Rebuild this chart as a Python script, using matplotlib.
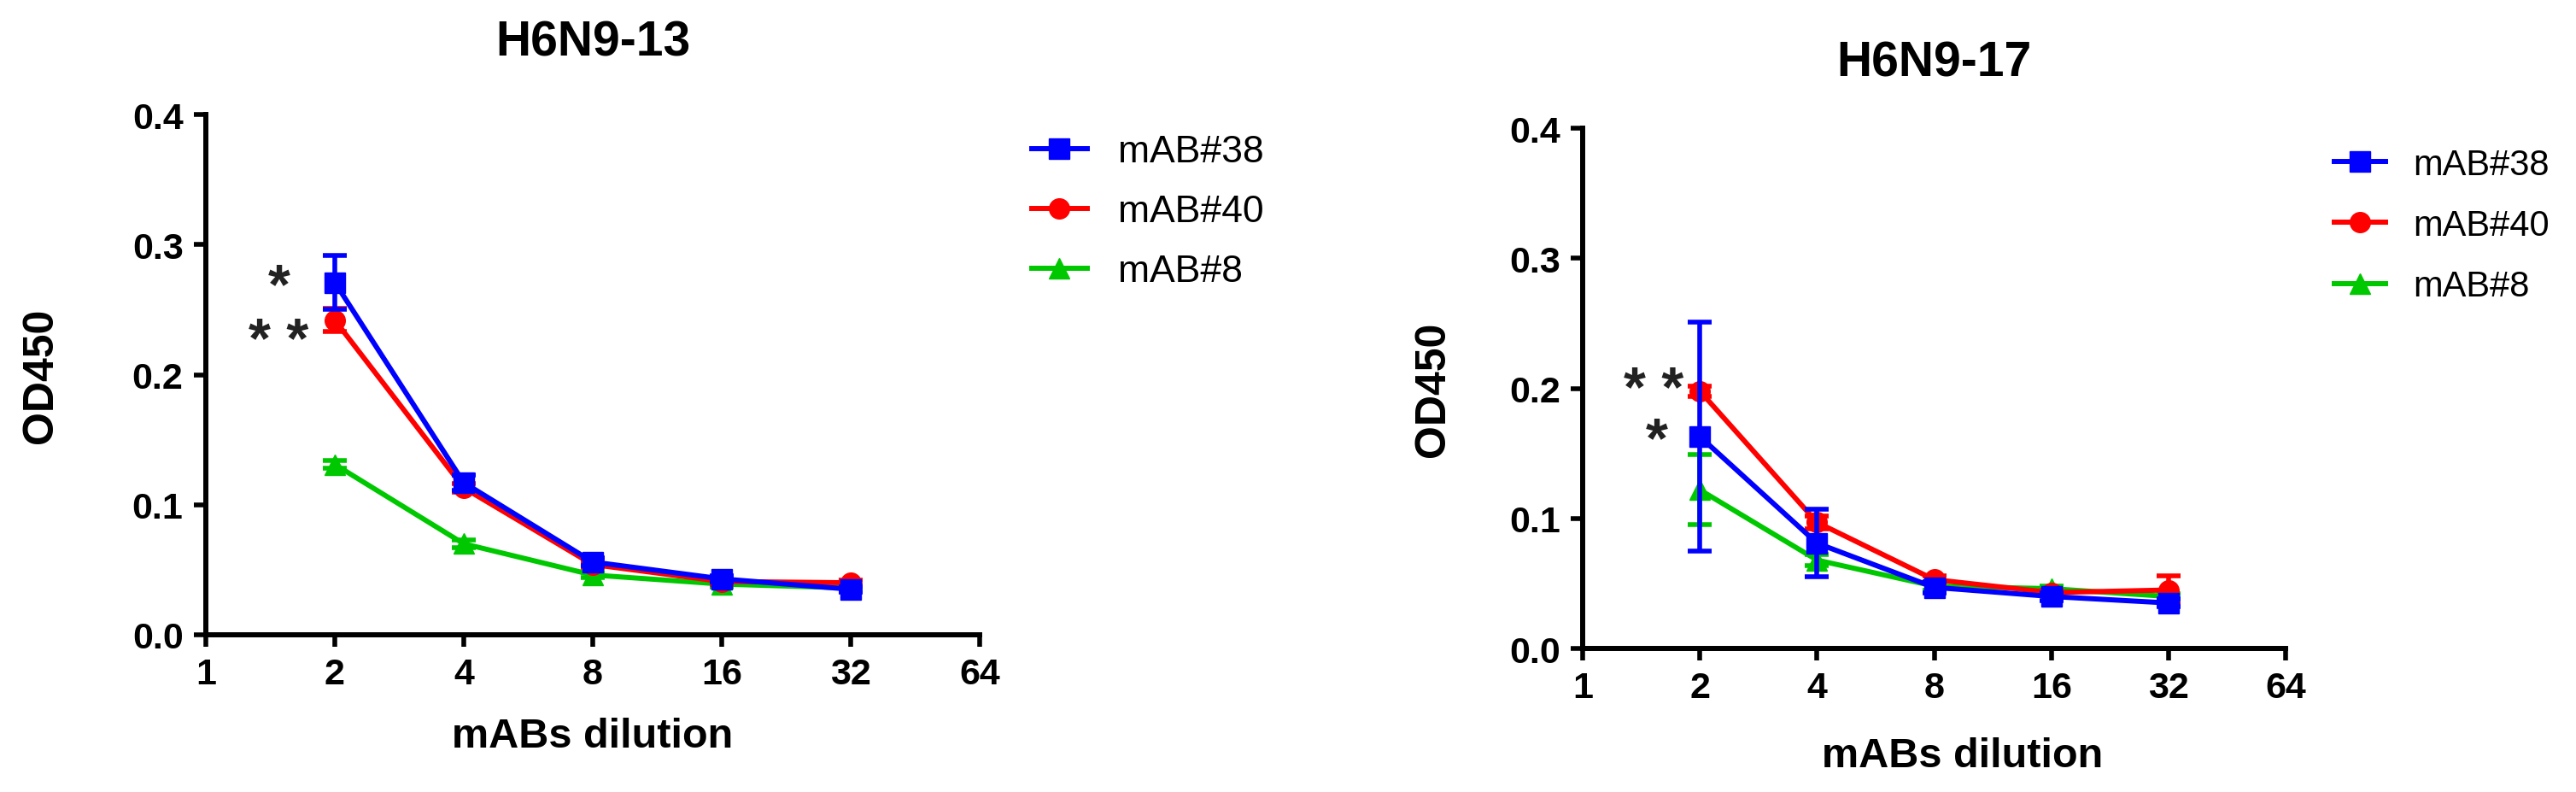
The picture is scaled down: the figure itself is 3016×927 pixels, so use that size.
import matplotlib
matplotlib.use('Agg')
import matplotlib.pyplot as plt
from matplotlib.ticker import FixedLocator, FixedFormatter

plt.rcParams['font.family'] = ['Liberation Sans', 'DejaVu Sans']

# dilution steps and tick labels
dilution = [2, 4, 8, 16, 32]
xticks = [1, 2, 4, 8, 16, 32, 64]
yticks = [0.0, 0.1, 0.2, 0.3, 0.4]

labels = ['mAB#38', 'mAB#40', 'mAB#8']
colors = ['#0000FF', '#FF0000', '#00C800']
markers = ['s', 'o', '^']

# H6N9-13
h13_m38 = [0.271, 0.117, 0.056, 0.043, 0.035]
h13_m38_err = [0.021, 0.006, 0.003, 0.002, 0.002]
h13_m40 = [0.242, 0.113, 0.054, 0.041, 0.040]
h13_m40_err = [0.009, 0.003, 0.002, 0.002, 0.002]
h13_m8 = [0.131, 0.070, 0.046, 0.039, 0.036]
h13_m8_err = [0.003, 0.003, 0.002, 0.002, 0.002]

# H6N9-17
h17_m38 = [0.163, 0.081, 0.047, 0.040, 0.035]
h17_m38_err = [0.088, 0.026, 0.004, 0.003, 0.003]
h17_m40 = [0.198, 0.097, 0.053, 0.043, 0.045]
h17_m40_err = [0.004, 0.005, 0.003, 0.002, 0.011]
h17_m8 = [0.122, 0.068, 0.048, 0.046, 0.040]
h17_m8_err = [0.027, 0.004, 0.003, 0.002, 0.002]

# significance marks: (x, y, text)
h13_stars = [(1.48, 0.267, '*'), (1.48, 0.225, '* *')]
h17_stars = [(1.52, 0.198, '* *'), (1.55, 0.159, '*')]

fig = plt.figure(figsize=(30.16, 9.28), dpi=100)
ax1 = fig.add_axes([0.0799, 0.1983, 0.3004, 0.656])
ax2 = fig.add_axes([0.6144, 0.181, 0.2729, 0.656])


def draw_panel(ax, title, series, errs, stars, title_y, xlab_x, xlab_y,
               leg_x, leg_y, leg_fs, leg_sp, leg_hl, leg_tp):
    handles = [None] * 3
    # draw green first, then red, blue on top
    for i in [2, 1, 0]:
        h = ax.errorbar(dilution, series[i], yerr=errs[i], color=colors[i],
                        marker=markers[i], markersize=17, lw=4.3,
                        elinewidth=4.0, capsize=10, capthick=4.0,
                        clip_on=False, zorder=3 + (2 - i))
        handles[i] = h
    for x, y, s in stars:
        ax.text(x, y, s, ha='center', va='center', fontsize=48,
                color='#222222', fontweight='bold')

    ax.set_xscale('log', base=2)
    ax.set_xlim(1, 64)
    ax.set_ylim(0, 0.4)
    ax.xaxis.set_major_locator(FixedLocator(xticks))
    ax.xaxis.set_major_formatter(FixedFormatter([str(t) for t in xticks]))
    ax.xaxis.set_minor_locator(FixedLocator([]))
    ax.yaxis.set_major_locator(FixedLocator(yticks))
    ax.yaxis.set_major_formatter(FixedFormatter(['%.1f' % t for t in yticks]))

    for side in ['top', 'right']:
        ax.spines[side].set_visible(False)
    for side in ['left', 'bottom']:
        ax.spines[side].set_linewidth(4.3)
    ax.tick_params(axis='both', direction='out', length=10, width=4.0,
                   labelsize=31, pad=9)
    for lab in ax.get_xticklabels() + ax.get_yticklabels():
        lab.set_fontweight('bold')

    ax.set_title(title, fontsize=41, fontweight='bold', x=0.5, y=title_y)
    ax.set_xlabel('mABs dilution', fontsize=35, fontweight='bold', va='center')
    ax.xaxis.set_label_coords(xlab_x, xlab_y)
    ax.set_ylabel('OD450', fontsize=36, fontweight='bold', va='center')
    ax.yaxis.set_label_coords(-0.213, 0.5)

    ax.legend([handles[0][0], handles[1][0], handles[2][0]], labels,
              loc='upper left', bbox_to_anchor=(leg_x, leg_y), frameon=False,
              fontsize=leg_fs, handlelength=leg_hl, handletextpad=leg_tp,
              labelspacing=leg_sp, borderpad=0, borderaxespad=0,
              markerscale=1.0)


draw_panel(ax1, 'H6N9-13', [h13_m38, h13_m40, h13_m8],
           [h13_m38_err, h13_m40_err, h13_m8_err], h13_stars,
           1.10, 0.5, -0.195, 1.067, 0.962, 32, 0.65, 1.46, 0.81)
draw_panel(ax2, 'H6N9-17', [h17_m38, h17_m40, h17_m8],
           [h17_m38_err, h17_m40_err, h17_m8_err], h17_stars,
           1.087, 0.54, -0.206, 1.069, 0.963, 30, 0.75, 1.44, 0.77)

fig.savefig('out.png', dpi=100)
